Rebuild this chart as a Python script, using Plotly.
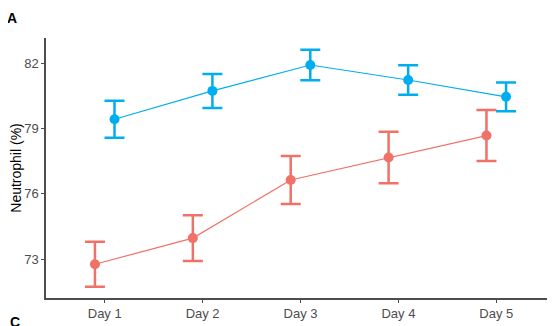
import plotly.graph_objects as go

days = ["Day 1", "Day 2", "Day 3", "Day 4", "Day 5"]
blue_mean = [79.42, 80.72, 81.91, 81.22, 80.45]
blue_err = [0.85, 0.78, 0.70, 0.68, 0.66]
red_mean = [72.76, 73.96, 76.63, 77.66, 78.67]
red_err = [1.03, 1.05, 1.10, 1.18, 1.17]
y_ticks = [73, 76, 79, 82]

BLUE = "#00AEEF"
RED = "#F07167"
dodge = 0.1
xpos = list(range(1, len(days) + 1))

# page body has an 8px margin; figure is sized to fill the rest of the window
W, H = 547, 318
L, T, B, R = 38, 30, 28, 0
PW, PH = W - L - R, H - T - B

fig = go.Figure()
for means, errs, col, off in [(red_mean, red_err, RED, -dodge), (blue_mean, blue_err, BLUE, dodge)]:
    fig.add_trace(go.Scatter(
        x=[p + off for p in xpos], y=means, mode="lines+markers",
        line=dict(color=col, width=1.2),
        marker=dict(color=col, size=10),
        error_y=dict(type="data", array=errs, visible=True, color=col, thickness=2.5, width=10),
        showlegend=False,
    ))

axis_col = "#4D4D4D"
fig.update_layout(
    width=W, height=H,
    margin=dict(l=L, r=R, t=T, b=B),
    paper_bgcolor="white", plot_bgcolor="white",
    font=dict(family="Liberation Sans, Arial, sans-serif", size=13, color=axis_col),
    xaxis=dict(range=[0.4, 5.6], tickvals=xpos, ticktext=days, showgrid=False, zeroline=False,
               showline=True, linecolor=axis_col, linewidth=1.5,
               ticks="outside", ticklen=3, tickcolor=axis_col, tickfont=dict(size=13, color=axis_col)),
    yaxis=dict(range=[71.21, 83.15], tickvals=y_ticks, showgrid=False, zeroline=False,
               showline=True, linecolor=axis_col, linewidth=1.5,
               ticks="outside", ticklen=3, tickcolor=axis_col, tickfont=dict(size=13, color=axis_col),
               title=dict(text="Neutrophil (%)", font=dict(size=14, color="black"), standoff=3)),
)
fig.add_annotation(text="<b>A</b>", x=(4 - L) / PW, y=1 + (T - 10) / PH, xref="paper", yref="paper",
                   showarrow=False, xanchor="center", yanchor="middle", font=dict(size=14, color="black"))
fig.add_annotation(text="<b>C</b>", x=(7 - L) / PW, y=-(314 - (T + PH)) / PH, xref="paper", yref="paper",
                   showarrow=False, xanchor="center", yanchor="middle", font=dict(size=14, color="black"))

fig.write_html("out.html")
